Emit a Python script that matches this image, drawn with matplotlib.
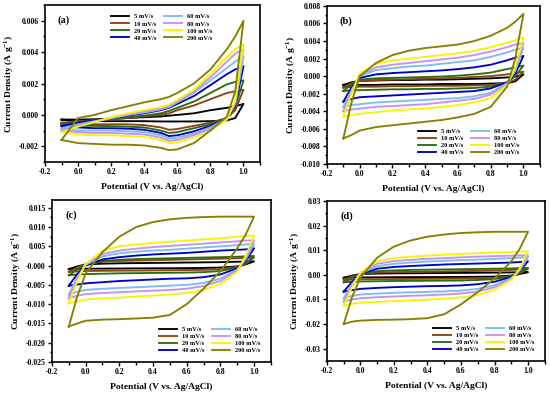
import numpy as np
import matplotlib
matplotlib.use('Agg')
import matplotlib.pyplot as plt
from matplotlib.ticker import MultipleLocator, FormatStrFormatter

plt.rcParams['font.family'] = 'Liberation Serif'
plt.rcParams['font.weight'] = 'bold'
plt.rcParams['axes.unicode_minus'] = False
plt.rcParams['mathtext.fontset'] = 'custom'
plt.rcParams['mathtext.rm'] = 'Liberation Serif:bold'
plt.rcParams['mathtext.bf'] = 'Liberation Serif:bold'

rates = ['5 mV/s', '10 mV/s', '20 mV/s', '40 mV/s', '60 mV/s', '80 mV/s', '100 mV/s', '200 mV/s']
colors = ['#000000', '#8b4513', '#2a6e12', '#0000c8', '#78bef5', '#c890f5', '#f5f500', '#858000']

# potentials (V) at which the currents are read; currents in units of 1e-3 A/g
E_a = [-0.1, 0.0, 0.1, 0.2, 0.3, 0.4, 0.5, 0.55, 0.6, 0.7, 0.8, 0.9, 0.95, 1.0]
E_bcd = [-0.1, -0.05, 0.0, 0.1, 0.2, 0.3, 0.4, 0.5, 0.6, 0.7, 0.8, 0.9, 0.95, 1.0]

# panel (a): anodic (forward) and cathodic (reverse) branches
a_up = [
    [-0.3, -0.3, -0.28, -0.25, -0.2, -0.15, -0.1, -0.05, 0.0, 0.1, 0.3, 0.45, 0.55, 0.7],
    [-0.5, -0.4, -0.35, -0.3, -0.2, -0.1, 0.0, 0.1, 0.3, 0.6, 1.0, 1.4, 1.5, 1.6],
    [-0.6, -0.45, -0.35, -0.25, -0.15, -0.05, 0.1, 0.25, 0.45, 0.85, 1.4, 1.95, 2.1, 2.2],
    [-0.7, -0.5, -0.35, -0.2, -0.05, 0.1, 0.3, 0.45, 0.7, 1.2, 1.9, 2.6, 2.9, 3.1],
    [-0.85, -0.6, -0.4, -0.2, 0.0, 0.15, 0.35, 0.5, 0.8, 1.4, 2.2, 3.0, 3.4, 3.7],
    [-1.0, -0.7, -0.45, -0.2, 0.0, 0.2, 0.4, 0.55, 0.85, 1.5, 2.4, 3.4, 3.9, 4.2],
    [-1.1, -0.75, -0.45, -0.15, 0.1, 0.3, 0.5, 0.65, 0.95, 1.6, 2.6, 3.7, 4.2, 4.5],
    [-1.6, -0.2, 0.0, 0.3, 0.55, 0.8, 1.0, 1.15, 1.4, 2.0, 2.9, 4.2, 5.0, 6.0],
]
a_lo = [
    [-0.3, -0.38, -0.4, -0.4, -0.4, -0.4, -0.42, -0.42, -0.42, -0.42, -0.4, -0.35, -0.2, 0.7],
    [-0.5, -0.6, -0.6, -0.6, -0.6, -0.65, -0.8, -0.95, -0.9, -0.7, -0.5, -0.2, 0.3, 1.6],
    [-0.6, -0.7, -0.7, -0.72, -0.75, -0.8, -1.0, -1.15, -1.1, -0.85, -0.6, -0.2, 0.5, 2.2],
    [-0.7, -0.8, -0.85, -0.85, -0.88, -0.95, -1.15, -1.35, -1.3, -1.05, -0.7, -0.2, 0.6, 3.1],
    [-0.85, -1.0, -1.0, -1.0, -1.05, -1.1, -1.3, -1.5, -1.45, -1.2, -0.8, -0.2, 0.7, 3.7],
    [-1.0, -1.1, -1.15, -1.15, -1.2, -1.25, -1.45, -1.65, -1.6, -1.3, -0.9, -0.25, 0.8, 4.2],
    [-1.1, -1.25, -1.3, -1.3, -1.35, -1.4, -1.6, -1.8, -1.75, -1.45, -1.0, -0.3, 0.9, 4.5],
    [-1.6, -1.8, -1.85, -1.9, -1.9, -1.95, -2.1, -2.25, -2.2, -1.8, -1.0, -0.1, 1.5, 6.0],
]

# panel (b)
b_up = [
    [-1.0, -0.7, -0.55, -0.5, -0.45, -0.45, -0.4, -0.4, -0.35, -0.3, -0.25, -0.15, -0.05, 0.2],
    [-1.3, -0.8, -0.55, -0.45, -0.4, -0.35, -0.3, -0.25, -0.2, -0.1, 0.0, 0.2, 0.35, 0.5],
    [-1.7, -0.9, -0.4, -0.25, -0.2, -0.15, -0.1, -0.05, 0.05, 0.2, 0.4, 0.8, 1.0, 1.2],
    [-2.9, -1.3, -0.2, 0.2, 0.35, 0.45, 0.55, 0.65, 0.8, 1.0, 1.3, 1.8, 2.1, 2.3],
    [-3.5, -1.6, 0.0, 0.7, 0.9, 1.1, 1.2, 1.4, 1.6, 1.8, 2.2, 2.7, 3.0, 3.2],
    [-4.0, -1.8, 0.1, 1.0, 1.3, 1.5, 1.7, 1.9, 2.1, 2.4, 2.8, 3.3, 3.6, 3.8],
    [-4.6, -2.0, 0.3, 1.4, 1.8, 2.0, 2.2, 2.4, 2.6, 2.9, 3.3, 3.8, 4.1, 4.4],
    [-7.1, -3.0, 0.0, 1.5, 2.4, 2.9, 3.2, 3.4, 3.6, 4.0, 4.6, 5.5, 6.2, 7.1],
]
b_lo = [
    [-1.0, -1.0, -1.0, -1.0, -0.95, -0.95, -0.95, -0.9, -0.9, -0.9, -0.85, -0.8, -0.6, 0.2],
    [-1.3, -1.25, -1.2, -1.2, -1.15, -1.15, -1.1, -1.1, -1.1, -1.05, -1.0, -0.8, -0.4, 0.5],
    [-1.7, -1.6, -1.6, -1.55, -1.5, -1.5, -1.45, -1.45, -1.4, -1.35, -1.2, -0.7, 0.0, 1.2],
    [-2.9, -2.6, -2.4, -2.3, -2.2, -2.1, -2.0, -1.9, -1.8, -1.7, -1.4, -0.7, 0.3, 2.3],
    [-3.5, -3.3, -3.2, -3.0, -2.9, -2.8, -2.7, -2.6, -2.5, -2.3, -1.9, -0.8, 0.6, 3.2],
    [-4.0, -3.8, -3.7, -3.5, -3.4, -3.3, -3.2, -3.0, -2.8, -2.6, -2.1, -0.9, 0.8, 3.8],
    [-4.6, -4.4, -4.3, -4.1, -3.9, -3.8, -3.7, -3.5, -3.3, -3.0, -2.5, -1.0, 1.0, 4.4],
    [-7.1, -6.7, -6.2, -5.8, -5.6, -5.4, -5.2, -5.0, -4.7, -4.3, -3.5, -1.2, 2.0, 7.1],
]

# panel (c)
c_up = [
    [-0.9, -0.2, 0.3, 0.5, 0.6, 0.65, 0.7, 0.75, 0.8, 0.85, 0.9, 1.0, 1.05, 1.1],
    [-1.6, -0.5, 0.4, 1.0, 1.2, 1.3, 1.4, 1.5, 1.6, 1.7, 1.8, 1.9, 2.0, 2.1],
    [-2.5, -1.0, 0.2, 1.2, 1.5, 1.7, 1.8, 1.9, 2.0, 2.1, 2.2, 2.3, 2.4, 2.5],
    [-5.2, -2.2, 0.0, 1.6, 2.2, 2.6, 2.9, 3.1, 3.3, 3.6, 3.9, 4.1, 4.2, 4.5],
    [-7.5, -3.0, 0.2, 2.4, 3.2, 3.6, 3.9, 4.1, 4.4, 4.7, 5.0, 5.3, 5.5, 5.6],
    [-8.5, -3.5, 0.3, 3.0, 3.9, 4.4, 4.8, 5.1, 5.4, 5.7, 6.0, 6.3, 6.5, 6.6],
    [-9.8, -4.0, 0.5, 3.8, 5.0, 5.5, 5.9, 6.2, 6.5, 6.8, 7.1, 7.5, 7.7, 7.8],
    [-15.8, -8.0, -2.0, 3.5, 7.5, 10.0, 11.3, 12.0, 12.4, 12.6, 12.7, 12.7, 12.7, 12.7],
]
c_lo = [
    [-0.9, -0.85, -0.8, -0.78, -0.75, -0.72, -0.7, -0.68, -0.65, -0.6, -0.5, -0.2, 0.3, 1.1],
    [-1.6, -1.5, -1.4, -1.35, -1.3, -1.3, -1.25, -1.2, -1.15, -1.1, -0.9, -0.3, 0.5, 2.1],
    [-2.5, -2.3, -2.2, -2.1, -2.0, -1.95, -1.9, -1.85, -1.8, -1.7, -1.4, -0.5, 0.6, 2.5],
    [-5.2, -4.9, -4.6, -4.3, -4.0, -3.8, -3.6, -3.4, -3.3, -3.0, -2.3, -0.7, 1.2, 4.5],
    [-7.5, -6.8, -6.3, -6.0, -5.8, -5.6, -5.4, -5.2, -5.0, -4.5, -3.4, -1.0, 1.6, 5.6],
    [-8.5, -7.8, -7.4, -7.1, -6.9, -6.7, -6.5, -6.3, -6.0, -5.3, -4.0, -1.2, 2.0, 6.6],
    [-9.8, -9.2, -8.8, -8.5, -8.3, -8.0, -7.8, -7.5, -7.1, -6.3, -4.8, -1.5, 2.5, 7.8],
    [-15.8, -15.0, -14.3, -14.0, -13.9, -13.7, -13.5, -12.8, -10.0, -6.0, -1.5, 4.5, 8.0, 12.7],
]

# panel (d)
d_up = [
    [-1.2, -0.3, 0.3, 0.5, 0.6, 0.65, 0.7, 0.75, 0.8, 0.85, 0.9, 1.0, 1.05, 1.1],
    [-2.0, -0.7, 0.3, 0.9, 1.1, 1.2, 1.3, 1.4, 1.5, 1.6, 1.8, 2.0, 2.2, 2.5],
    [-3.0, -1.2, 0.3, 1.5, 1.8, 2.0, 2.1, 2.2, 2.3, 2.4, 2.5, 2.6, 2.7, 2.8],
    [-6.8, -2.8, 0.3, 2.5, 3.2, 3.6, 3.9, 4.2, 4.4, 4.6, 4.8, 5.0, 5.2, 5.5],
    [-9.5, -3.8, 0.6, 3.5, 4.5, 5.0, 5.4, 5.7, 6.0, 6.2, 6.5, 6.8, 7.0, 7.2],
    [-10.8, -4.2, 0.8, 4.5, 5.6, 6.1, 6.5, 6.8, 7.1, 7.4, 7.6, 7.8, 7.9, 8.0],
    [-12.5, -5.0, 1.0, 5.5, 6.8, 7.4, 7.8, 8.2, 8.5, 8.8, 9.1, 9.3, 9.4, 9.5],
    [-20.0, -9.0, -1.0, 7.0, 11.5, 14.0, 15.5, 16.4, 17.0, 17.3, 17.5, 17.5, 17.5, 17.5],
]
d_lo = [
    [-1.2, -1.1, -1.05, -1.0, -0.95, -0.92, -0.9, -0.88, -0.85, -0.8, -0.7, -0.3, 0.3, 1.1],
    [-2.0, -1.9, -1.8, -1.75, -1.7, -1.65, -1.6, -1.55, -1.5, -1.4, -1.2, -0.5, 0.5, 2.5],
    [-3.0, -2.8, -2.7, -2.6, -2.5, -2.45, -2.4, -2.35, -2.3, -2.1, -1.7, -0.6, 0.8, 2.8],
    [-6.8, -6.2, -5.7, -5.3, -5.0, -4.8, -4.6, -4.5, -4.3, -3.8, -2.8, -0.9, 1.5, 5.5],
    [-9.5, -8.6, -8.0, -7.6, -7.3, -7.1, -6.9, -6.7, -6.4, -5.7, -4.2, -1.3, 1.8, 7.2],
    [-10.8, -10.0, -9.5, -9.1, -8.8, -8.5, -8.3, -8.0, -7.6, -6.8, -5.0, -1.6, 2.0, 8.0],
    [-12.5, -11.8, -11.3, -11.0, -10.7, -10.4, -10.1, -9.7, -9.2, -8.2, -6.0, -2.0, 2.5, 9.5],
    [-20.0, -19.0, -18.6, -18.3, -18.2, -18.0, -17.6, -16.0, -12.0, -7.0, -1.5, 5.5, 10.5, 17.5],
]


def draw_panel(ax, E, up, lo, tag, ylim, ystep, yfmt, leg_kw):
    E = np.array(E)
    for u, l, c, lab in zip(up, lo, colors, rates):
        x = np.concatenate([E, E[::-1]])
        y = np.concatenate([u, l[::-1]]) * 1e-3
        ax.plot(x, y, color=c, lw=1.35, label=lab)
    ax.set_xlim(-0.2, 1.1)
    ax.set_ylim(*ylim)
    ax.xaxis.set_major_locator(MultipleLocator(0.2))
    ax.xaxis.set_minor_locator(MultipleLocator(0.1))
    ax.yaxis.set_major_locator(MultipleLocator(ystep))
    ax.yaxis.set_minor_locator(MultipleLocator(ystep / 2))
    ax.xaxis.set_major_formatter(FormatStrFormatter('%.1f'))
    ax.yaxis.set_major_formatter(FormatStrFormatter(yfmt))
    ax.tick_params(which='both', direction='out', labelsize=5.6, width=1.0, pad=1.5)
    ax.tick_params(which='major', length=3)
    ax.tick_params(which='minor', length=1.8)
    for s in ax.spines.values():
        s.set_linewidth(1.2)
    ax.set_xlabel('Potential (V vs. Ag/AgCl)', fontsize=6.8, fontweight='bold', labelpad=5)
    ax.set_ylabel('Current Density (A g$^{-1}$)', fontsize=6.8, fontweight='bold', labelpad=2)
    ax.text(0.06, 0.89, tag, transform=ax.transAxes, fontsize=7.5, fontweight='bold')
    ax.legend(ncol=2, frameon=False, fontsize=4.6, handlelength=2.8, columnspacing=1.2,
              labelspacing=0.25, handletextpad=0.8, **leg_kw)


fig = plt.figure(figsize=(5.5, 3.94), dpi=100)
ax_a = fig.add_axes([0.0818, 0.589, 0.391, 0.398])
ax_b = fig.add_axes([0.5945, 0.584, 0.387, 0.401])
ax_c = fig.add_axes([0.0945, 0.0812, 0.398, 0.411])
ax_d = fig.add_axes([0.5945, 0.0838, 0.396, 0.406])

draw_panel(ax_a, E_a, a_up, a_lo, '(a)', (-0.003, 0.007), 0.002, '%.3f',
           dict(loc='upper left', bbox_to_anchor=(0.28, 0.98)))
draw_panel(ax_b, E_bcd, b_up, b_lo, '(b)', (-0.010, 0.008), 0.002, '%.3f',
           dict(loc='lower right', bbox_to_anchor=(0.93, 0.02)))
draw_panel(ax_c, E_bcd, c_up, c_lo, '(c)', (-0.025, 0.017), 0.005, '%.3f',
           dict(loc='lower right', bbox_to_anchor=(0.98, 0.02)))
draw_panel(ax_d, E_bcd, d_up, d_lo, '(d)', (-0.035, 0.03), 0.01, '%.2f',
           dict(loc='lower right', bbox_to_anchor=(0.98, 0.02)))

fig.savefig('out.png', dpi=100)
